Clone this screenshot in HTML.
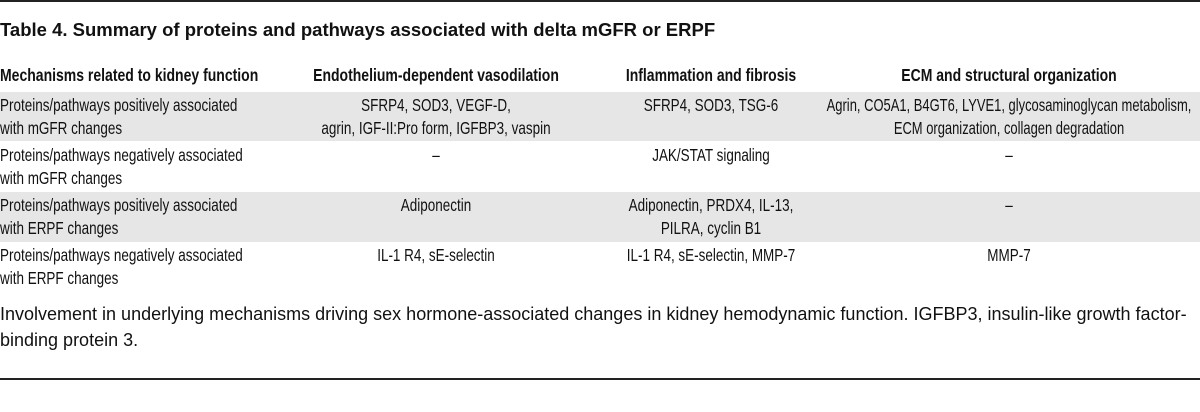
<!DOCTYPE html>
<html><head><meta charset="utf-8"><style>
body{margin:0;width:1200px;height:412px;background:#fff;position:relative;overflow:hidden;font-family:"Liberation Sans",sans-serif;color:#111}
.ln{position:absolute;left:0;width:1200px;height:2px;background:#222}
.t{position:absolute;white-space:nowrap}
.title{left:0;top:19px;font-weight:bold;font-size:18.5px}
.bg{position:absolute;left:0;width:1200px;background:#e6e6e6}
.c{position:absolute;font-size:17.5px;line-height:23px;white-space:nowrap;transform:scaleX(0.77)}
.l{left:0;transform-origin:left}
.m{text-align:center;width:600px;transform-origin:center}
.h{font-weight:bold;transform:scaleX(0.8)}
.n{transform:scaleX(0.74)}
.foot{left:0;font-size:18px;line-height:26px;top:301px}
</style></head><body>
<div class="ln" style="top:0"></div>
<div class="t title">Table 4. Summary of proteins and pathways associated with delta mGFR or ERPF</div>
<div class="bg" style="top:92px;height:49px"></div>
<div class="bg" style="top:192px;height:50px"></div>

<div class="c l h" style="top:64px">Mechanisms related to kidney function</div>
<div class="c m h" style="top:64px;left:136px">Endothelium-dependent vasodilation</div>
<div class="c m h" style="top:64px;left:411px">Inflammation and fibrosis</div>
<div class="c m h" style="top:64px;left:709px">ECM and structural organization</div>

<div class="c l" style="top:94px">Proteins/pathways positively associated<br>with mGFR changes</div>
<div class="c m" style="top:94px;left:136px">SFRP4, SOD3, VEGF-D,<br>agrin, IGF-II:Pro form, IGFBP3, vaspin</div>
<div class="c m" style="top:94px;left:411px">SFRP4, SOD3, TSG-6</div>
<div class="c m n" style="top:94px;left:709px">Agrin, CO5A1, B4GT6, LYVE1, glycosaminoglycan metabolism,<br>ECM organization, collagen degradation</div>

<div class="c l" style="top:144px">Proteins/pathways negatively associated<br>with mGFR changes</div>
<div class="c m" style="top:144px;left:136px">–</div>
<div class="c m" style="top:144px;left:411px">JAK/STAT signaling</div>
<div class="c m" style="top:144px;left:709px">–</div>

<div class="c l" style="top:194px">Proteins/pathways positively associated<br>with ERPF changes</div>
<div class="c m" style="top:194px;left:136px">Adiponectin</div>
<div class="c m" style="top:194px;left:411px">Adiponectin, PRDX4, IL-13,<br>PILRA, cyclin B1</div>
<div class="c m" style="top:194px;left:709px">–</div>

<div class="c l" style="top:244px">Proteins/pathways negatively associated<br>with ERPF changes</div>
<div class="c m" style="top:244px;left:136px">IL-1 R4, sE-selectin</div>
<div class="c m" style="top:244px;left:411px">IL-1 R4, sE-selectin, MMP-7</div>
<div class="c m" style="top:244px;left:709px">MMP-7</div>

<div class="t foot">Involvement in underlying mechanisms driving sex hormone-associated changes in kidney hemodynamic function. IGFBP3, insulin-like growth factor-<br>binding protein 3.</div>
<div class="ln" style="top:378px"></div>
</body></html>
